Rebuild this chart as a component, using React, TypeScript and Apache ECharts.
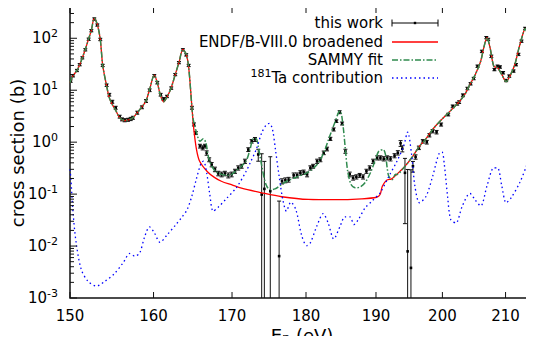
import React, { useEffect, useRef } from 'react';
import * as echarts from 'echarts';

// ---------- data (energy in eV, cross section in barn) ----------
const ENDF_E = [150.0, 150.35, 150.81, 151.13, 151.43, 151.78, 152.18, 152.49, 152.84, 153.2, 153.55, 153.84, 154.31, 154.62, 154.98, 155.39, 155.87, 156.47, 156.87, 157.47, 158.0, 158.57, 159.07, 159.52, 160.09, 160.46, 160.88, 161.25, 161.67, 162.2, 162.7, 163.17, 163.67, 164.09, 164.4, 164.82, 165.05, 165.4, 165.8, 166.8, 167.7, 168.6, 170.0, 171.25, 173.94, 176.65, 180.33, 184.09, 187.9, 190.09, 190.6, 190.93, 191.57, 192.31, 193.06, 194.31, 195.5, 196.5, 197.3, 198.5, 199.9, 201.2, 202.6, 203.5, 204.3, 205.1, 206.0, 206.5, 207.0, 207.5, 208.1, 208.7, 209.4, 210.1, 210.7, 211.5, 212.2, 212.9, 213.2, 213.7, 214.3, 214.5];
const ENDF_XS = [14, 19, 24, 31, 42, 61, 98, 142, 242, 185, 95, 30, 12, 7.2, 5.3, 4.1, 2.95, 2.6, 2.65, 2.95, 3.7, 4.8, 6.2, 10.4, 19.5, 14, 7.7, 6.0, 7.4, 11.2, 20, 34, 61, 49, 28, 4.6, 1.8, 0.72, 0.43, 0.27, 0.21, 0.177, 0.15, 0.13, 0.106, 0.089, 0.079, 0.078, 0.081, 0.087, 0.098, 0.142, 0.185, 0.197, 0.239, 0.345, 0.54, 0.84, 1.08, 1.76, 2.74, 3.96, 6.0, 8.3, 12.9, 19.5, 36, 66, 103, 66, 29, 27, 20, 14.6, 18.7, 31, 66, 128, 155, 88, 12.9, 9];

// SAMMY fit where it departs from ENDF (165–193 eV)
const SAMMY_MID_E = [164.98, 165.41, 165.84, 166.26, 166.61, 166.9, 167.35, 167.99, 168.64, 169.29, 169.95, 170.61, 171.27, 171.94, 172.38, 172.82, 173.19, 173.48, 173.95, 174.52, 175.06, 175.74, 176.42, 177.33, 178.76, 180.15, 181.55, 182.48, 183.32, 184.13, 184.6, 184.84, 185.23, 185.56, 185.89, 186.38, 187.0, 187.73, 188.45, 189.18, 189.92, 190.4, 191.05, 191.39, 191.65, 191.89, 192.39, 192.88];
const SAMMY_MID_XS = [2.74, 1.52, 1.04, 1.16, 0.97, 0.54, 0.345, 0.265, 0.24, 0.23, 0.24, 0.29, 0.345, 0.46, 0.72, 1.16, 1.16, 0.84, 0.345, 0.153, 0.122, 0.126, 0.146, 0.177, 0.215, 0.257, 0.37, 0.625, 1.3, 2.54, 3.78, 3.95, 2.03, 0.72, 0.276, 0.153, 0.132, 0.138, 0.17, 0.257, 0.46, 0.67, 0.72, 0.58, 0.32, 0.22, 0.19, 0.24];

const TA_E = [150.0, 150.1, 150.35, 150.7, 151.3, 152.1, 153.1, 154.1, 155.2, 156.3, 157.1, 157.7, 158.3, 158.9, 159.5, 160.1, 160.8, 161.7, 162.8, 163.6, 164.2, 164.8, 165.4, 166.0, 166.3, 166.7, 167.1, 167.55, 168.2, 169.2, 170.6, 171.9, 172.4, 173.2, 173.95, 174.6, 175.0, 175.4, 175.8, 176.3, 176.8, 177.3, 177.9, 178.6, 179.4, 180.1, 180.6, 181.5, 182.4, 183.1, 183.9, 184.8, 185.5, 186.2, 186.8, 187.4, 188.4, 189.4, 190.6, 191.9, 193.1, 194.1, 194.7, 195.3, 195.8, 196.5, 197.5, 198.5, 199.55, 199.95, 200.3, 200.8, 201.3, 202.1, 203.1, 204.3, 205.1, 206.0, 207.0, 208.1, 208.7, 209.4, 210.1, 210.9, 212.3, 213.4, 214.3, 214.5];
const TA_XS = [0.3, 0.2, 0.045, 0.012, 0.0036, 0.0021, 0.0017, 0.0021, 0.0029, 0.0048, 0.0072, 0.0064, 0.0074, 0.015, 0.0235, 0.018, 0.0118, 0.0165, 0.026, 0.037, 0.05, 0.091, 0.2, 0.4, 0.43, 0.26, 0.1, 0.047, 0.056, 0.08, 0.135, 0.28, 0.4, 0.72, 1.52, 2.19, 2.29, 1.76, 0.72, 0.22, 0.079, 0.047, 0.07, 0.05, 0.016, 0.0102, 0.0115, 0.024, 0.042, 0.028, 0.0137, 0.024, 0.0366, 0.0366, 0.026, 0.032, 0.054, 0.073, 0.106, 0.22, 0.43, 0.84, 1.56, 0.58, 0.142, 0.068, 0.091, 0.22, 0.625, 0.64, 0.37, 0.091, 0.032, 0.028, 0.059, 0.103, 0.078, 0.059, 0.142, 0.32, 0.32, 0.142, 0.068, 0.085, 0.165, 0.345, 0.72, 0.85];

const DATA_E = [150.08, 150.35, 150.81, 151.13, 151.43, 151.78, 152.18, 152.49, 152.84, 153.2, 153.55, 153.84, 154.31, 154.62, 154.98, 155.39, 155.87, 156.15, 156.47, 156.87, 157.2, 157.47, 158.0, 158.57, 159.07, 159.52, 160.09, 160.46, 160.88, 161.25, 161.67, 162.2, 162.7, 163.17, 163.67, 164.09, 164.4, 164.82, 165.07, 165.31,
  165.84, 166.19, 166.48, 166.7, 167.03, 167.35, 167.77, 168.2, 168.64, 169.07, 169.51, 169.95, 170.39, 170.82, 171.27, 171.71, 172.15, 172.6, 173.04, 173.48, 173.94, 174.3, 175.1, 176.3, 176.7, 177.15, 177.6, 178.29, 178.76, 179.22, 179.67, 180.15, 180.61, 180.99, 181.55, 182.01, 182.48, 182.95, 183.42, 183.89, 184.27, 184.74, 185.09, 185.56, 186.18, 186.67, 187.14, 187.62, 188.11, 188.6, 189.08, 189.58, 190.17, 190.65, 191.14, 191.65, 192.14, 192.74, 193.23, 193.64, 193.9, 194.3, 194.7, 195.2,
  195.5, 195.9, 196.4, 197.0, 197.6, 198.0, 198.5, 199.1, 199.8, 200.9, 201.6, 202.3, 202.6, 203.2, 203.9, 204.4, 204.9, 205.5, 206.2, 206.9, 207.2, 207.7, 208.2, 208.7, 209.1, 209.6, 210.1, 210.6, 211.3, 211.7, 212.1, 212.6, 213.2, 213.7, 214.4];
const DATA_XS = [15, 19, 24, 31, 42, 60, 96, 140, 235, 180, 95, 30, 12.5, 8.2, 6.0, 4.6, 3.1, 2.75, 2.65, 2.7, 2.8, 2.95, 3.7, 4.7, 6.2, 10, 19, 14, 8.2, 6.8, 7.6, 11, 20, 34, 60, 48, 30, 4.6, 2.2, 1.5,
  0.84, 0.78, 0.84, 0.62, 0.46, 0.37, 0.3, 0.25, 0.24, 0.25, 0.23, 0.24, 0.276, 0.32, 0.345, 0.43, 0.72, 1.04, 1.13, 0.58, 0.098, 0.126, 0.114, 0.0064, 0.177, 0.185, 0.19, 0.23, 0.23, 0.257, 0.265, 0.24, 0.32, 0.345, 0.43, 0.46, 0.625, 0.74, 1.16, 1.76, 2.54, 3.78, 2.29, 0.67, 0.24, 0.206, 0.215, 0.23, 0.215, 0.276, 0.32, 0.43, 0.5, 0.5, 0.48, 0.5, 0.48, 0.55, 0.625, 0.95, 0.75, 0.257, 0.0079, 0.0038,
  0.345, 0.52, 0.78, 1.04, 1.0, 1.36, 1.63, 1.56, 2.19, 3.4, 4.9, 5.5, 5.9, 8.0, 10.8, 13.3, 16.8, 29, 56, 103, 95, 45, 25, 29, 28, 21.7, 15.4, 18.7, 23.4, 31, 49, 88, 155, 95, 14];
const DATA_ERR = [0.8, 1, 1.2, 1.5, 2, 3, 5, 7, 12, 9, 5, 1.5, 0.7, 0.5, 0.4, 0.3, 0.2, 0.18, 0.18, 0.18, 0.2, 0.2, 0.25, 0.3, 0.4, 0.6, 1, 0.8, 0.5, 0.4, 0.4, 0.6, 1, 1.7, 3, 2.5, 1.5, 0.3, 0.15, 0.1,
  0.07, 0.07, 0.07, 0.06, 0.04, 0.035, 0.03, 0.025, 0.025, 0.025, 0.025, 0.025, 0.025, 0.03, 0.03, 0.04, 0.06, 0.08, 0.1, 0.15, 0.5, 0.3, 0.41, 0.067, 0.02, 0.02, 0.02, 0.025, 0.025, 0.025, 0.025, 0.025, 0.03, 0.03, 0.04, 0.04, 0.05, 0.06, 0.08, 0.12, 0.15, 0.25, 0.15, 0.06, 0.025, 0.02, 0.02, 0.02, 0.02, 0.025, 0.03, 0.04, 0.045, 0.045, 0.045, 0.045, 0.045, 0.05, 0.06, 0.12, 0.1, 0.23, 0.29, 0.29,
  0.08, 0.05, 0.06, 0.08, 0.08, 0.1, 0.12, 0.12, 0.15, 0.2, 0.3, 0.35, 0.35, 0.5, 0.6, 0.7, 0.9, 1.5, 3, 5, 5, 2.5, 1.3, 1.5, 1.5, 1.2, 0.8, 1, 1.2, 1.6, 2.5, 4.5, 8, 5, 0.8];

const X_TICKS = [150, 160, 170, 180, 190, 200, 210];
const Y_MAJOR = [0.001, 0.01, 0.1, 1, 10, 100];
const MINOR_MULT = [2, 3, 4, 5, 6, 7, 8, 9];

const X_MIN = 150;
const X_MAX = 214.5;
const Y_MIN = 0.001;
const Y_MAX = 400;

const FONT = '"DejaVu Sans", "Liberation Sans", sans-serif';
const RED = '#ff0000';
const GREEN = '#2f8a4e';
const BLUE = '#0000ff';

function buildOption(): any {
  const endf = ENDF_E.map((e, i) => [e, ENDF_XS[i]]);
  const sammy = [
    ...endf.filter((p) => p[0] < 164.9),
    ...SAMMY_MID_E.map((e, i) => [e, SAMMY_MID_XS[i]]),
    ...endf.filter((p) => p[0] > 192.9),
  ];
  const ta = TA_E.map((e, i) => [e, TA_XS[i]]);
  const meas = DATA_E.map((e, i) => [e, DATA_XS[i], DATA_ERR[i]]);

  const yTickData: number[][] = [];
  Y_MAJOR.forEach((d) => {
    yTickData.push([X_MIN, d, 1]);
    MINOR_MULT.forEach((m) => {
      const v = d * m;
      if (v < Y_MAX) yTickData.push([X_MIN, v, 0]);
    });
  });

  const txt = (extra: any) => ({
    fill: '#000',
    fontFamily: FONT,
    ...extra,
  });

  return {
    animation: false,
    textStyle: { fontFamily: FONT },
    grid: {
      left: 70,
      right: 1,
      top: 7,
      bottom: 46,
      show: true,
      borderColor: '#111',
      borderWidth: 1.5,
      backgroundColor: 'transparent',
    },
    xAxis: {
      type: 'log',
      logBase: 10,
      min: X_MIN,
      max: X_MAX,
      axisLine: { show: false },
      axisTick: { show: false },
      axisLabel: { show: false },
      splitLine: { show: false },
    },
    yAxis: {
      type: 'log',
      logBase: 10,
      min: Y_MIN,
      max: Y_MAX,
      axisLine: { show: false },
      axisTick: { show: false },
      splitLine: { show: false },
      axisLabel: {
        margin: 12,
        showMaxLabel: false,
        showMinLabel: true,
        formatter: (v: number) => `{b|10}{s|${Math.round(Math.log10(v))}}`,
        rich: {
          b: { fontSize: 15, fontFamily: FONT, color: '#000', lineHeight: 20 },
          s: { fontSize: 11, fontFamily: FONT, color: '#000', lineHeight: 12, verticalAlign: 'top' },
        },
      },
    },
    graphic: [
      {
        type: 'text',
        x: 17,
        y: 153,
        rotation: Math.PI / 2,
        style: txt({ text: 'cross section (b)', fontSize: 18, align: 'center', verticalAlign: 'middle', textAlign: 'center', textVerticalAlign: 'middle' }),
      },
      {
        type: 'text',
        x: 302,
        y: 335,
        style: {
          text: '{a|E}{s|n}{a| (eV)}',
          align: 'center',
          verticalAlign: 'middle',
          textAlign: 'center',
          textVerticalAlign: 'middle',
          rich: {
            a: { fontSize: 18, fontFamily: FONT, fill: '#000', color: '#000', lineHeight: 18 },
            s: { fontSize: 13, fontFamily: FONT, fill: '#000', color: '#000', lineHeight: 11, verticalAlign: 'bottom' },
          },
        },
      },
      // legend texts
      { type: 'text', x: 383, y: 23, style: txt({ text: 'this work', fontSize: 15, align: 'right', verticalAlign: 'middle', textAlign: 'right', textVerticalAlign: 'middle' }) },
      { type: 'text', x: 383, y: 42, style: txt({ text: 'ENDF/B-VIII.0 broadened', fontSize: 15, align: 'right', verticalAlign: 'middle', textAlign: 'right', textVerticalAlign: 'middle' }) },
      { type: 'text', x: 383, y: 60, style: txt({ text: 'SAMMY fit', fontSize: 15, align: 'right', verticalAlign: 'middle', textAlign: 'right', textVerticalAlign: 'middle' }) },
      {
        type: 'text',
        x: 383,
        y: 78,
        style: {
          text: '{s|181}{a|Ta contribution}',
          align: 'right',
          verticalAlign: 'middle',
          textAlign: 'right',
          textVerticalAlign: 'middle',
          rich: {
            a: { fontSize: 15, fontFamily: FONT, fill: '#000', color: '#000', lineHeight: 20 },
            s: { fontSize: 11, fontFamily: FONT, fill: '#000', color: '#000', lineHeight: 12, verticalAlign: 'top' },
          },
        },
      },
      // legend samples
      { type: 'line', shape: { x1: 392, y1: 23, x2: 438, y2: 23 }, style: { stroke: '#000', lineWidth: 1 } },
      { type: 'line', shape: { x1: 392, y1: 19.5, x2: 392, y2: 26.5 }, style: { stroke: '#000', lineWidth: 1 } },
      { type: 'line', shape: { x1: 438, y1: 19.5, x2: 438, y2: 26.5 }, style: { stroke: '#000', lineWidth: 1 } },
      { type: 'rect', shape: { x: 413.8, y: 21.8, width: 2.4, height: 2.4 }, style: { fill: '#000' } },
      { type: 'line', shape: { x1: 392, y1: 42, x2: 438, y2: 42 }, style: { stroke: RED, lineWidth: 1.3 } },
      { type: 'line', shape: { x1: 392, y1: 60, x2: 438, y2: 60 }, style: { stroke: GREEN, lineWidth: 1.5, lineDash: [6, 2, 1.5, 2] } },
      { type: 'line', shape: { x1: 392, y1: 78, x2: 438, y2: 78 }, style: { stroke: BLUE, lineWidth: 1.3, lineDash: [1.5, 3] } },
    ],
    series: [
      // measured data with error bars
      {
        type: 'custom',
        name: 'this work',
        data: meas,
        clip: true,
        silent: true,
        z: 2,
        encode: { x: 0, y: 1 },
        renderItem: (params: any, api: any) => {
          const e = api.value(0);
          const s = api.value(1);
          const er = api.value(2);
          const lowOk = s - er > Y_MIN;
          const lo = lowOk ? s - er : Y_MIN;
          const hi = Math.min(s + er, Y_MAX);
          const pc = api.coord([e, s]);
          const pl = api.coord([e, lo]);
          const ph = api.coord([e, hi]);
          const st = { stroke: '#111', lineWidth: 1 };
          const children: any[] = [
            { type: 'line', shape: { x1: pc[0], y1: pl[1], x2: pc[0], y2: ph[1] }, style: st },
            { type: 'line', shape: { x1: pc[0] - 2, y1: ph[1], x2: pc[0] + 2, y2: ph[1] }, style: st },
            { type: 'rect', shape: { x: pc[0] - 1.3, y: pc[1] - 1.3, width: 2.6, height: 2.6 }, style: { fill: '#000' } },
          ];
          if (lowOk) {
            children.push({ type: 'line', shape: { x1: pc[0] - 2, y1: pl[1], x2: pc[0] + 2, y2: pl[1] }, style: st });
          }
          return { type: 'group', children };
        },
      },
      {
        type: 'line',
        name: 'ENDF/B-VIII.0 broadened',
        data: endf,
        showSymbol: false,
        smooth: 0.3,
        silent: true,
        z: 3,
        lineStyle: { color: RED, width: 1.3 },
      },
      {
        type: 'line',
        name: 'SAMMY fit',
        data: sammy,
        showSymbol: false,
        smooth: 0.3,
        silent: true,
        z: 4,
        lineStyle: { color: GREEN, width: 1.5, type: [6, 2, 1.5, 2] },
      },
      {
        type: 'line',
        name: '181Ta contribution',
        data: ta,
        showSymbol: false,
        smooth: 0.3,
        silent: true,
        z: 5,
        lineStyle: { color: BLUE, width: 1.3, type: [1.5, 3] },
      },
      // x ticks (bottom & top) and labels
      {
        type: 'custom',
        data: X_TICKS.map((v) => [v, Y_MIN]),
        clip: false,
        silent: true,
        z: 10,
        encode: { x: 0, y: 1 },
        renderItem: (params: any, api: any) => {
          const v = api.value(0);
          const b = api.coord([v, Y_MIN]);
          const t = api.coord([v, Y_MAX]);
          const st = { stroke: '#111', lineWidth: 1 };
          return {
            type: 'group',
            children: [
              { type: 'line', shape: { x1: b[0], y1: b[1], x2: b[0], y2: b[1] - 6 }, style: st },
              { type: 'line', shape: { x1: t[0], y1: t[1], x2: t[0], y2: t[1] + 6 }, style: st },
              {
                type: 'text',
                x: b[0],
                y: b[1] + 18,
                style: { text: String(v), fontSize: 15, lineHeight: 15, fontFamily: FONT, fill: '#000', align: 'center', verticalAlign: 'middle', textAlign: 'center', textVerticalAlign: 'middle' },
              },
            ],
          };
        },
      },
      // y ticks (left & right), major and minor
      {
        type: 'custom',
        data: yTickData,
        clip: false,
        silent: true,
        z: 10,
        encode: { x: 0, y: 1 },
        renderItem: (params: any, api: any) => {
          const v = api.value(1);
          const len = api.value(2) ? 7 : 4;
          const l = api.coord([X_MIN, v]);
          const r = api.coord([X_MAX, v]);
          const st = { stroke: '#111', lineWidth: 1 };
          return {
            type: 'group',
            children: [
              { type: 'line', shape: { x1: l[0], y1: l[1], x2: l[0] + len, y2: l[1] }, style: st },
              { type: 'line', shape: { x1: r[0], y1: r[1], x2: r[0] - len, y2: r[1] }, style: st },
            ],
          };
        },
      },
    ],
  };
}

export default function App() {
  const ref = useRef<HTMLDivElement>(null);
  useEffect(() => {
    if (!ref.current) return;
    const chart = echarts.init(ref.current, null, { renderer: 'svg' });
    chart.setOption(buildOption());
    return () => chart.dispose();
  }, []);
  return (
    <div style={{ margin: -8 }}>
      <div ref={ref} style={{ width: 534, height: 344 }} />
    </div>
  );
}
